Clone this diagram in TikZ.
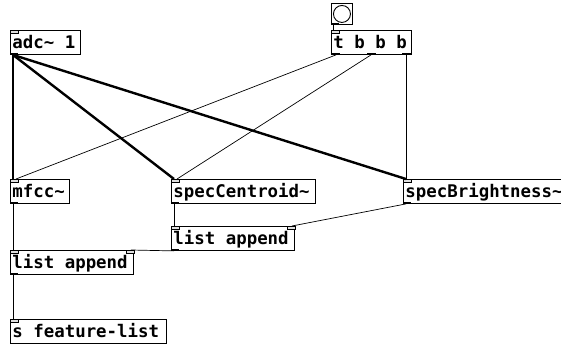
\documentclass[tikz,border=0pt]{standalone}
\usepackage{fontspec}
\newfontfamily\pdfont{DejaVu Sans Mono}
\usetikzlibrary{calc}

\tikzset{
  pdobj/.style={draw, line width=0.9pt, anchor=north west, inner xsep=2pt, inner ysep=0pt,
    minimum height=24pt, align=left, font=\pdfont\bfseries\fontsize{17.4}{20}\selectfont,
    text height=17pt, text depth=5pt, execute at begin node={\spaceskip=0pt\xspaceskip=0pt\relax}},
  inlet/.style={draw, line width=0.6pt, fill=gray!25},
  outlet/.style={fill=black},
  sig/.style={line width=2.4pt},
  ctl/.style={line width=0.7pt},
}

\begin{document}
\begin{tikzpicture}[x=1pt, y=-1pt]
  \useasboundingbox (0,0) rectangle (561,345);

  % objects
  \node[pdobj, text width=66pt]  (adc)    at (10,30)  {adc\textasciitilde{} 1};
  \node[draw, line width=0.9pt, anchor=north west, minimum size=21pt, inner sep=0pt] (bng) at (331,3) {};
  \draw[line width=0.9pt] (bng.center) circle (8.5pt);
  \node[pdobj, text width=76pt]  (trig)   at (331,30) {t b b b};
  \node[pdobj, text width=55pt]  (mfcc)   at (10,179) {mfcc\textasciitilde};
  \node[pdobj, text width=140pt] (cent)   at (171,179) {specCentroid\textasciitilde};
  \node[pdobj, text width=166pt] (bright) at (403,179) {specBrightness\textasciitilde};
  \node[pdobj, text width=119pt] (appR)   at (171,226) {list append};
  \node[pdobj, text width=119pt] (appL)   at (10,250) {list append};
  \node[pdobj, text width=152pt] (send)   at (10,319) {s feature-list};

  % inlets and outlets
  \foreach \n in {adc, trig, mfcc, cent, bright, appR, appL, send}
    \draw[inlet] (\n.north west) rectangle ++(8,3);
  \foreach \n in {appR, appL}
    \draw[inlet] (\n.north east) rectangle ++(-8,3);
  \foreach \n in {adc, bng, mfcc, cent, bright, appR, appL}
    \fill[outlet] (\n.south west) rectangle ++(8,-2);
  \foreach \dx in {0, 36, 71}
    \fill[outlet] ($(trig.south west)+(\dx,0)$) rectangle ++(9,-2);

  % signal connections
  \draw[sig] ([xshift=3pt]adc.south west) -- ([xshift=3pt]mfcc.north west);
  \draw[sig] ([xshift=3pt]adc.south west) -- ([xshift=3pt]cent.north west);
  \draw[sig] ([xshift=3pt]adc.south west) -- ([xshift=3pt]bright.north west);

  % control connections
  \draw[ctl] ([xshift=2pt]bng.south west) -- ([xshift=2pt]trig.north west);
  \draw[ctl] ([xshift=5pt]trig.south west) -- ([xshift=6pt]mfcc.north west);
  \draw[ctl] ([xshift=40pt]trig.south west) -- ([xshift=6pt]cent.north west);
  \draw[ctl] ([xshift=75pt]trig.south west) -- ([xshift=3pt]bright.north west);
  \draw[ctl] ([xshift=3pt]mfcc.south west) -- ([xshift=3pt]appL.north west);
  \draw[ctl] ([xshift=3pt]cent.south west) -- ([xshift=3pt]appR.north west);
  \draw[ctl] ([xshift=3pt]bright.south west) -- ([xshift=-3pt]appR.north east);
  \draw[ctl] ([xshift=3pt]appR.south west) -- ([xshift=-3pt]appL.north east);
  \draw[ctl] ([xshift=3pt]appL.south west) -- ([xshift=3pt]send.north west);
\end{tikzpicture}
\end{document}
